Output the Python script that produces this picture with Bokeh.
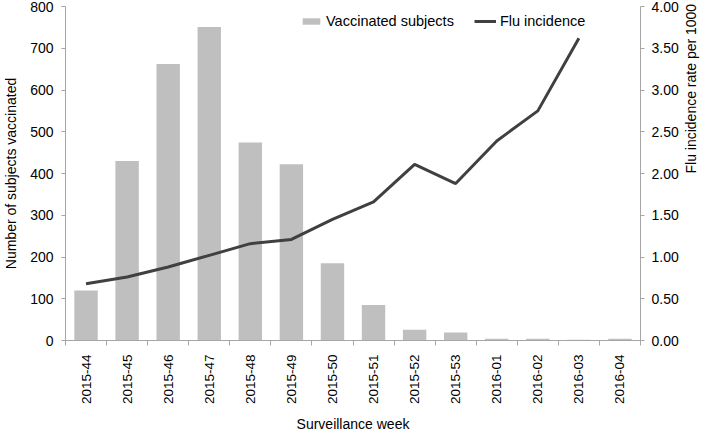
import math
from bokeh.plotting import figure
from bokeh.models import (Range1d, LinearAxis, FixedTicker, Legend, LegendItem,
                          NumeralTickFormatter, ColumnDataSource)
from bokeh.embed import file_html
from bokeh.resources import INLINE

weeks = ["2015-44", "2015-45", "2015-46", "2015-47", "2015-48", "2015-49", "2015-50",
         "2015-51", "2015-52", "2015-53", "2016-01", "2016-02", "2016-03", "2016-04"]
vaccinated = [120, 430, 662, 751, 474, 422, 185, 85, 26, 19, 4, 4, 2, 4]
flu_weeks = weeks[:13]
flu_incidence = [0.68, 0.76, 0.88, 1.02, 1.16, 1.21, 1.45, 1.66, 2.11, 1.88, 2.39, 2.75, 3.62]
left_ticks = [0, 100, 200, 300, 400, 500, 600, 700, 800]
right_ticks = [0, 0.5, 1.0, 1.5, 2.0, 2.5, 3.0, 3.5, 4.0]

FONT = "Liberation Sans"
AXIS_COLOR = "#a6a6a6"

idx = list(range(len(weeks)))
bar_src = ColumnDataSource(dict(x=idx, top=vaccinated))
line_src = ColumnDataSource(dict(x=idx[:len(flu_weeks)], y=flu_incidence))

p = figure(width=709, height=435, output_backend="svg", toolbar_location=None,
           x_range=Range1d(-0.5, len(weeks) - 0.5), y_range=Range1d(0, 800),
           min_border_left=64, min_border_right=67, min_border_top=6, min_border_bottom=94)
p.outline_line_color = None
p.grid.visible = False
p.background_fill_color = "white"

p.extra_y_ranges = {"right": Range1d(0, 4)}

bars = p.vbar(x="x", top="top", width=0.57, source=bar_src, fill_color="#bfbfbf",
              line_color=None)
line = p.line(x="x", y="y", source=line_src, y_range_name="right", line_color="#404040",
              line_width=3)

# X axis
xa = p.xaxis[0]
xa.ticker = FixedTicker(ticks=idx, minor_ticks=[i - 0.5 for i in range(len(weeks) + 1)])
xa.major_label_overrides = {i: w for i, w in enumerate(weeks)}
xa.major_label_orientation = math.pi / 2
xa.major_tick_line_color = None
xa.major_tick_out = 0
xa.major_tick_in = 0
xa.minor_tick_out = 5
xa.minor_tick_in = 0
xa.minor_tick_line_color = AXIS_COLOR
xa.axis_line_color = AXIS_COLOR
xa.major_label_standoff = 9
xa.major_label_text_font = FONT
xa.major_label_text_font_size = "13.5px"
xa.major_label_text_color = "black"
xa.axis_label = "Surveillance week"
xa.axis_label_text_font = FONT
xa.axis_label_text_font_size = "14px"
xa.axis_label_text_font_style = "normal"
xa.axis_label_text_color = "black"
xa.axis_label_standoff = 9

# Left axis
ya = p.yaxis[0]
ya.ticker = FixedTicker(ticks=left_ticks)
ya.minor_tick_line_color = None
ya.major_tick_out = 4
ya.major_tick_in = 0
ya.major_tick_line_color = AXIS_COLOR
ya.axis_line_color = AXIS_COLOR
ya.major_label_standoff = 8
ya.major_label_text_font = FONT
ya.major_label_text_font_size = "14px"
ya.major_label_text_color = "black"
ya.axis_label = "Number of subjects vaccinated"
ya.axis_label_text_font = FONT
ya.axis_label_text_font_size = "14px"
ya.axis_label_text_font_style = "normal"
ya.axis_label_text_color = "black"
ya.axis_label_standoff = 8

# Right axis
ra = LinearAxis(y_range_name="right", ticker=FixedTicker(ticks=right_ticks),
                formatter=NumeralTickFormatter(format="0.00"))
ra.minor_tick_line_color = None
ra.major_tick_out = 4
ra.major_tick_in = 0
ra.major_tick_line_color = AXIS_COLOR
ra.axis_line_color = AXIS_COLOR
ra.major_label_standoff = 7
ra.major_label_text_font = FONT
ra.major_label_text_font_size = "14px"
ra.major_label_text_color = "black"
ra.axis_label = "Flu incidence rate per 1000"
ra.axis_label_orientation = math.pi / 2
ra.axis_label_text_font = FONT
ra.axis_label_text_font_size = "14px"
ra.axis_label_text_font_style = "normal"
ra.axis_label_text_color = "black"
ra.axis_label_standoff = 9
p.add_layout(ra, "right")

legend = Legend(items=[LegendItem(label="Vaccinated subjects", renderers=[bars]),
                       LegendItem(label="Flu incidence", renderers=[line])],
                orientation="horizontal", location=(235, 311),
                background_fill_alpha=0, border_line_color=None,
                glyph_width=22, glyph_height=8, label_standoff=4, spacing=20,
                padding=0, margin=0,
                label_text_font=FONT, label_text_font_size="14.5px",
                label_text_color="black")
p.add_layout(legend, "center")

open("out.html", "w").write(file_html(p, INLINE))
